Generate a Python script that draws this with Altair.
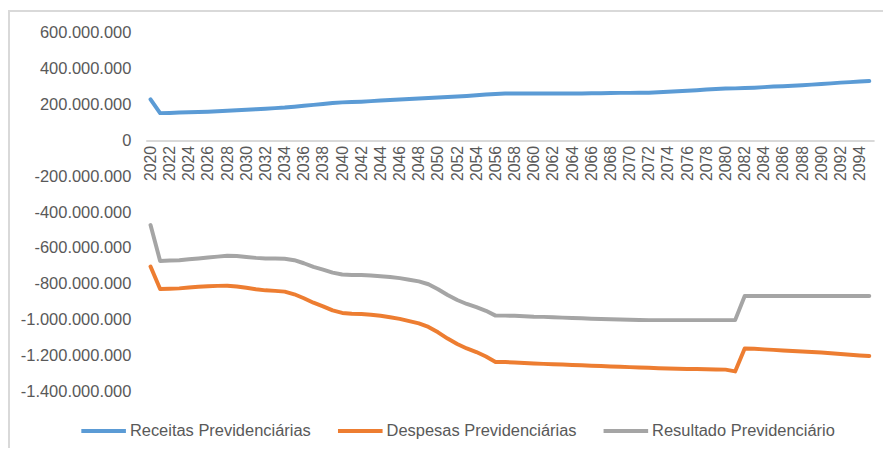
import altair as alt
import pandas as pd

years = list(range(2020, 2096))

receitas_mi = [
    229, 152, 153, 155, 157, 158, 160, 162, 165, 168,
    171, 174, 177, 180, 183, 188, 193, 198, 203, 208,
    212, 214, 216, 219, 222, 225, 228, 231, 234, 236,
    239, 242, 245, 248, 252, 256, 259, 261, 262, 262,
    262, 262, 262, 262, 262, 262, 263, 263, 264, 265,
    265, 266, 266, 268, 271, 274, 277, 280, 284, 287,
    289, 290, 292, 294, 297, 300, 302, 305, 308, 311,
    314, 318, 322, 325, 328, 331,
]

despesas_mi = [
    -703, -829, -827, -825, -820, -816, -813, -811, -810, -815,
    -822, -830, -836, -839, -843, -858, -880, -905, -925, -948,
    -962, -966, -968, -972, -978, -986, -995, -1008, -1020, -1040,
    -1070, -1105, -1135, -1160, -1180, -1205, -1235, -1236, -1238, -1241,
    -1244, -1246, -1248, -1250, -1252, -1254, -1256, -1258, -1260, -1262,
    -1264, -1266, -1268, -1270, -1272, -1273, -1274, -1275, -1276, -1277,
    -1278, -1288, -1160, -1162, -1165, -1168, -1171, -1174, -1177, -1180,
    -1183, -1187, -1191, -1195, -1199, -1202,
]

resultado_mi = [
    -472, -672, -670, -668, -663, -658, -653, -648, -643, -645,
    -650, -655, -658, -659, -660, -668, -685, -705, -720, -737,
    -748, -750, -751, -753, -757, -762, -768, -777, -786, -802,
    -830, -862, -890, -912, -930, -950, -977, -977, -978, -980,
    -983, -984, -986, -988, -990, -992, -994, -996, -997, -999,
    -1000, -1001, -1002, -1002, -1002, -1002, -1002, -1002, -1002, -1002,
    -1002, -1002, -868, -868, -868, -868, -868, -868, -868, -868,
    -868, -868, -868, -868, -868, -868,
]

series_names = ["Receitas Previdenciárias", "Despesas Previdenciárias", "Resultado Previdenciário"]
series_colors = ["#5B9BD5", "#ED7D31", "#A5A5A5"]

year_ticks = list(range(2020, 2095, 2))
y_ticks = [600000000, 400000000, 200000000, 0, -200000000, -400000000,
           -600000000, -800000000, -1000000000, -1200000000, -1400000000]

rows = []
for name, vals in zip(series_names, [receitas_mi, despesas_mi, resultado_mi]):
    for yr, v in zip(years, vals):
        rows.append({"ano": yr, "valor": v * 1_000_000, "serie": name})
df = pd.DataFrame(rows)

W, H = 735, 362
y_min, y_max = -1400000000, 600000000
zero_px = H * (y_max - 0) / (y_max - y_min)
TXT = "#595959"
FONT = "Liberation Sans"

label_expr = ("replace(replace(replace(replace(format(datum.value, ','), ',', '.'), ',', '.'), ',', '.'), '\u2212', '-')")

lines = alt.Chart(df).mark_line(strokeWidth=4, strokeCap="round", strokeJoin="round").encode(
    x=alt.X("ano:Q",
            scale=alt.Scale(domain=[2019.5, 2095.5], nice=False, zero=False),
            axis=alt.Axis(values=year_ticks, format="d", labelAngle=270, title=None,
                          grid=False, ticks=False, domainColor="#D9D9D9", domainWidth=2,
                          labelFontSize=16, labelColor=TXT, labelFont=FONT, labelPadding=5,
                          offset=-(H - zero_px), labelOverlap=False, labelFlush=False)),
    y=alt.Y("valor:Q",
            scale=alt.Scale(domain=[y_min, y_max], nice=False),
            axis=alt.Axis(values=y_ticks, labelExpr=label_expr, title=None, grid=False,
                          ticks=False, domain=False, labelFontSize=16.6, labelColor=TXT,
                          labelFont=FONT, labelPadding=15)),
    color=alt.Color("serie:N",
                    scale=alt.Scale(domain=series_names, range=series_colors),
                    legend=alt.Legend(title=None, orient="none", direction="horizontal",
                                      legendX=-67, legendY=377, columns=3,
                                      symbolType="stroke", symbolStrokeWidth=4,
                                      symbolSize=2025, labelFontSize=16.6, labelColor=TXT,
                                      labelFont=FONT, labelOffset=2, columnPadding=19,
                                      labelLimit=400, padding=0)),
    order=alt.Order("ano:Q"),
)

frame = alt.Chart(alt.Data(values=[{"f": 1}])).mark_rect(
    fill="transparent", stroke="#D9D9D9", strokeWidth=2
).encode(
    x=alt.value(-138), x2=alt.value(760), y=alt.value(-22), y2=alt.value(440)
)

chart = alt.layer(frame, lines).properties(
    width=W, height=H,
    background="white",
    autosize=alt.AutoSizeParams(type="none"),
    padding={"left": 139, "top": 23, "right": 9, "bottom": 55},
).configure_view(strokeWidth=0, stroke="transparent")

chart.save("out.html", embed_options={"renderer": "svg", "actions": False})
